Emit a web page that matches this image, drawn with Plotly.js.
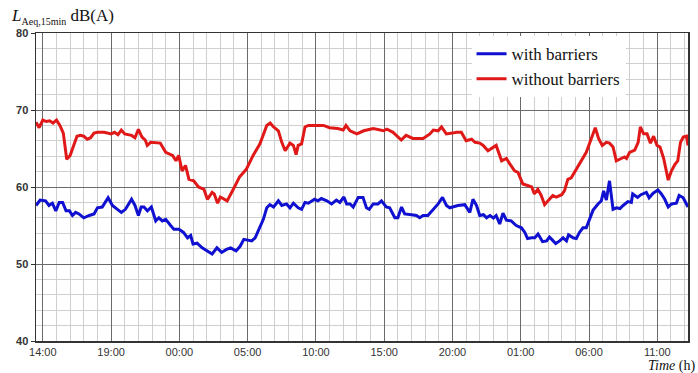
<!DOCTYPE html>
<html>
<head>
<meta charset="utf-8">
<script src="https://cdn.plot.ly/plotly-3.0.1.min.js"></script>
<style>html,body{margin:0;padding:0;background:#fff;}#chart{width:698px;height:373px;}</style>
</head>
<body>
<div id="chart"></div>
<script>
// time in hours after 14:00 of day 1
const tickHours = [0, 5, 10, 15, 20, 25, 30, 35, 40, 45];
const tickLabels = ["14:00", "19:00", "00:00", "05:00", "10:00", "15:00", "20:00", "01:00", "06:00", "11:00"];

const redTime = [-0.5,-0.27,0,0.25,0.5,0.75,1.0,1.25,1.5,1.75,2.0,2.25,2.5,2.75,3.0,3.25,3.5,3.75,4.0,4.5,5.0,5.25,5.5,5.75,6.0,6.5,6.75,7.0,7.25,7.5,7.65,7.9,8.6,9.0,9.5,9.75,9.95,10.2,10.45,10.7,11.05,11.4,11.8,12.05,12.4,12.55,12.8,13.0,13.25,13.5,13.95,14.4,14.9,15.4,15.9,16.15,16.4,16.65,16.9,17.25,17.5,17.75,18.1,18.35,18.55,18.7,18.95,19.2,19.45,20.05,20.55,21.0,21.6,22.0,22.2,22.5,23.0,23.5,24.2,24.95,25.2,25.65,26.25,26.6,27.1,27.85,28.35,28.6,28.95,29.2,29.55,30.0,30.3,30.65,31.0,31.4,31.65,32.0,32.25,32.6,32.95,33.2,33.6,33.95,34.2,34.55,34.8,35.15,35.5,35.8,36.0,36.25,36.5,36.75,37.1,37.35,37.6,38.0,38.2,38.45,38.7,39.07,39.45,39.8,40.17,40.46,40.7,40.97,41.27,41.5,41.76,42.0,42.36,42.6,42.75,42.97,43.35,43.6,43.76,44.0,44.25,44.5,44.73,44.98,45.2,45.47,45.8,46.04,46.28,46.5,46.7,46.9,47.14,47.25];
const redLevel = [68.4,67.7,68.7,68.5,68.6,68.3,68.7,68.0,67.0,63.6,64.1,65.5,66.6,66.7,66.6,66.2,66.4,67.0,67.1,67.1,66.9,67.1,66.8,67.4,66.9,66.7,66.4,67.5,66.5,66.1,65.4,65.8,65.7,64.5,64.1,63.4,64.1,62.1,62.8,61.0,60.8,60.0,59.7,58.4,59.3,59.1,57.9,58.7,58.5,58.2,59.7,61.3,62.3,64.1,65.6,66.7,68.0,68.3,67.8,67.3,65.8,64.7,65.7,65.4,64.2,65.4,65.6,67.8,68.0,68.0,68.0,67.7,67.6,67.4,68.0,67.3,66.9,67.3,67.6,67.3,67.5,67.1,66.1,66.7,66.3,66.3,66.9,67.4,67.3,67.8,66.9,67.0,67.1,67.1,66.0,66.2,65.8,65.7,65.4,64.7,65.1,65.4,63.4,63.7,63.0,62.1,61.9,60.4,60.2,60.0,59.1,59.7,58.9,57.7,58.4,58.9,58.7,59.0,59.5,61.0,61.2,62.3,63.4,64.5,66.3,67.7,66.3,65.4,65.8,65.7,65.2,63.4,63.7,63.9,63.7,64.5,64.8,65.8,67.8,66.9,66.9,65.7,66.6,65.4,65.2,63.7,60.9,62.1,62.9,63.4,65.8,66.5,66.6,65.4];

const blueTime = [-0.5,-0.2,0.2,0.45,0.7,0.95,1.2,1.45,1.7,1.95,2.17,2.4,2.65,3.0,3.4,3.75,4.0,4.35,4.78,5.1,5.46,5.75,6.05,6.5,6.75,7.0,7.2,7.41,7.66,7.95,8.27,8.5,8.75,9.0,9.36,9.6,9.97,10.3,10.6,10.83,11.0,11.3,11.67,12.05,12.4,12.75,13.1,13.45,13.75,14.15,14.45,14.72,14.93,15.3,15.55,15.8,16.15,16.4,16.63,16.9,17.25,17.5,17.85,18.1,18.35,18.7,18.95,19.2,19.45,19.9,20.15,20.4,20.8,21.15,21.5,21.75,22.05,22.25,22.5,22.73,23.1,23.45,23.7,23.9,24.2,24.55,24.8,25.15,25.4,25.78,26.0,26.27,26.5,27.0,27.36,27.6,27.85,28.2,28.6,28.95,29.27,29.56,29.8,30.05,30.4,30.9,31.27,31.5,31.76,32.0,32.27,32.5,32.75,33.0,33.2,33.46,33.7,33.95,34.3,34.67,35.05,35.3,35.5,35.8,36.03,36.27,36.6,36.9,37.1,37.27,37.56,37.85,38.1,38.35,38.5,38.83,39.07,39.3,39.56,39.8,40.0,40.3,40.66,40.9,41.07,41.27,41.5,41.76,42.0,42.27,42.5,42.85,43.1,43.2,43.56,43.8,44.2,44.4,44.7,45.05,45.3,45.55,45.8,46.04,46.4,46.6,46.9,47.1,47.25];
const blueLevel = [57.6,58.3,58.2,57.6,57.9,56.9,58.0,58.0,56.9,56.9,56.3,56.7,56.5,56.0,56.3,56.5,57.3,57.4,58.6,57.6,57.1,56.7,57.1,58.4,57.6,56.3,57.4,57.4,56.9,57.4,55.6,56.0,55.6,55.8,55.0,54.5,54.5,54.1,53.4,53.7,52.6,52.7,52.1,51.7,51.3,52.1,51.5,51.9,52.1,51.7,52.3,53.2,53.1,53.0,53.4,54.5,55.8,57.3,57.7,57.4,58.2,57.6,57.8,57.3,57.9,57.3,57.1,58.0,57.9,58.4,58.2,58.5,58.2,57.8,58.3,58.0,58.7,57.8,57.8,57.4,58.65,58.65,57.3,57.1,57.8,57.8,58.2,57.4,57.3,56.0,56.0,57.4,56.5,56.4,56.3,56.0,56.3,56.3,57.1,57.8,58.65,57.6,57.3,57.4,57.6,57.7,56.7,58.4,57.6,56.3,56.4,56.0,56.3,55.96,56.3,55.2,56.6,55.7,55.6,55.0,54.7,54.1,53.3,53.4,53.4,53.9,52.9,53.0,53.5,53.2,52.65,53.0,53.4,53.0,53.8,53.4,53.3,54.1,54.7,54.7,55.6,57.0,57.8,58.2,59.5,58.3,60.8,57.1,57.3,57.2,57.6,58.1,58.0,59.1,58.65,59.0,59.3,58.6,59.2,59.6,59.1,58.4,57.4,57.8,57.9,58.9,58.6,58.0,57.4];

const seriesNames = ["with barriers", "without barriers"];

const traces = [
  {x: blueTime, y: blueLevel, name: seriesNames[0], type: 'scatter', mode: 'lines',
   line: {color: '#1010d0', width: 3}},
  {x: redTime, y: redLevel, name: seriesNames[1], type: 'scatter', mode: 'lines',
   line: {color: '#e01818', width: 3}}
];

const serif = 'Liberation Serif, Times New Roman, serif';

const layout = {
  width: 698, height: 373,
  margin: {l: 36, r: 10, t: 33, b: 32},
  paper_bgcolor: '#ffffff', plot_bgcolor: '#ffffff',
  showlegend: true,
  legend: {
    x: 0.668, y: 0.99, xanchor: 'left', yanchor: 'top',
    bgcolor: '#ffffff', borderwidth: 0,
    font: {family: serif, size: 17, color: '#111'},
    tracegroupgap: 0, itemwidth: 30
  },
  xaxis: {
    range: [-0.5, 47.25], tickvals: tickHours, ticktext: tickLabels,
    showgrid: true, gridcolor: '#6a6a6a', gridwidth: 1,
    minor: {dtick: 1, tick0: 0, showgrid: true, gridcolor: '#cfcfcf', gridwidth: 1, ticks: ''},
    showline: true, linecolor: '#333', linewidth: 1.5, mirror: true,
    ticks: '',
    tickfont: {family: 'Liberation Sans, Arial, sans-serif', size: 11, color: '#333'},
    zeroline: false, fixedrange: true
  },
  yaxis: {
    range: [40, 80], tickvals: [40, 50, 60, 70, 80],
    showgrid: true, gridcolor: '#6a6a6a', gridwidth: 1,
    minor: {dtick: 2, tick0: 40, showgrid: true, gridcolor: '#cfcfcf', gridwidth: 1, ticks: ''},
    showline: true, linecolor: '#333', linewidth: 1.5, mirror: true,
    ticks: 'outside', ticklen: 4, tickcolor: '#333',
    tickfont: {family: 'Liberation Sans, Arial, sans-serif', size: 11, color: '#333', weight: 'bold'},
    zeroline: false, fixedrange: true
  },
  annotations: [
    {text: '<i>L</i><sub><span style="font-size:10px">Aeq,15min</span></sub> dB(A)', xref: 'paper', yref: 'paper',
     x: -0.041, y: 1.052, xanchor: 'left', yanchor: 'middle', showarrow: false,
     font: {family: serif, size: 17, color: '#111'}},
    {text: '<i>Time</i> (h)', xref: 'paper', yref: 'paper',
     x: 1.014, y: -0.082, xanchor: 'right', yanchor: 'middle', showarrow: false,
     font: {family: serif, size: 14, color: '#111'}}
  ]
};

Plotly.newPlot('chart', traces, layout, {displayModeBar: false, staticPlot: true});
</script>
</body>
</html>
